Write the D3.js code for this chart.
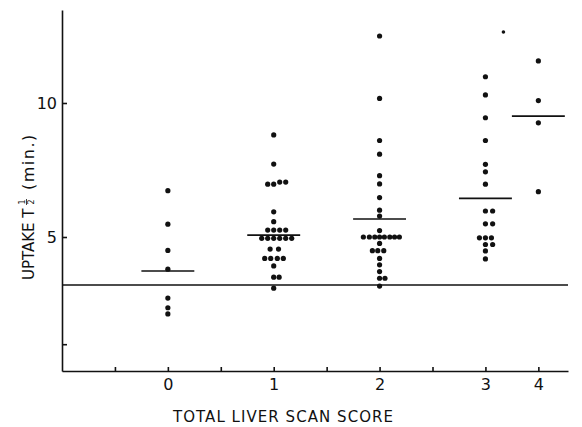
<!DOCTYPE html>
<html>
<head>
<meta charset="utf-8">
<script src="https://cdn.jsdelivr.net/npm/d3@7"></script>
<style>
body { margin: 0; background: #fff; }
text { font-family: "DejaVu Sans", sans-serif; fill: #111; }
</style>
</head>
<body>
<svg id="chart" width="582" height="427"></svg>
<script>
// liver scan score groups (score 4 sits at the 3.5 tick in the original)
var categories = ["0", "1", "2", "3", "4"];
var categoryPos = [0, 1, 2, 3, 3.5];

// [uptake T1/2 in min, column slot within the group]
var score0 = [[6.73,0],[5.48,0],[4.50,0],[3.80,0],[2.72,0],[2.36,0],[2.13,0]];
var score1 = [[8.81,0],[7.72,0],[6.97,-1],[6.97,0],[7.05,1],[7.05,2],[5.94,0],[5.57,0],
              [5.26,-1],[5.26,0],[5.26,1],[5.26,2],
              [4.95,-2],[4.95,-1],[4.95,0],[4.95,1],[4.95,2],[4.95,3],
              [4.55,-0.6],[4.55,0.8],[4.20,-1.5],[4.20,-0.5],[4.20,0.6],[4.20,1.6],
              [3.92,0],[3.50,0],[3.50,0.9],[3.09,0]];
var score2 = [[12.5,0],[10.17,0],[8.60,0],[8.09,0],[7.29,0],[6.98,0],[6.47,0],[6.00,0],[5.78,0],[5.24,0],
              [5.00,-2.7],[5.00,-1.7],[5.00,-0.8],[5.00,0],[5.00,0.8],[5.00,1.7],[5.00,2.5],[5.00,3.3],
              [4.76,0],[4.49,-1.2],[4.49,-0.3],[4.49,0.7],[4.20,0],[3.96,0],[3.71,0],
              [3.46,0],[3.46,0.9],[3.17,0]];
var score3 = [[12.65,3],[10.98,0],[10.30,0],[9.45,0],[8.60,0],[7.71,0],[7.43,0],[6.97,0],
              [5.97,0],[5.97,1.2],[5.49,0],[5.49,1.2],[4.97,-1],[4.97,0],[4.97,1],
              [4.72,0],[4.72,1.2],[4.48,0],[4.18,0]];
var score4 = [[11.57,0],[10.09,0],[9.26,0],[6.69,0]];
var groups = [score0, score1, score2, score3, score4];

var means = [3.73, 5.07, 5.67, 6.44, 9.51];
var normalUpper = 3.21;

var xTicks = [-0.5, 0, 0.5, 1, 1.5, 2, 2.5, 3, 3.5];
var yTicks = [1, 5, 10];
var yTickLabels = ["", "5", "10"];

var svg = d3.select("#chart");
var slotW = 6;

var xScale = d3.scaleLinear().domain([-1, 3.78]).range([62, 568]);
var yScale = d3.scaleLinear().domain([0, 13.47]).range([371, 10]);

var xAxis = d3.axisBottom(xScale)
    .tickValues(xTicks)
    .tickSizeInner(-4)
    .tickSizeOuter(0)
    .tickPadding(8)
    .tickFormat(function(d) {
        var i = categoryPos.indexOf(d);
        return i < 0 ? "" : categories[i];
    });

var yAxis = d3.axisLeft(yScale)
    .tickValues(yTicks)
    .tickSizeInner(-5)
    .tickSizeOuter(0)
    .tickPadding(5)
    .tickFormat(function(d, i) { return yTickLabels[i]; });

//Create X axis
svg.append("g")
    .attr("class", "x axis")
    .attr("transform", "translate(0," + yScale(0) + ")")
    .call(xAxis);

//Create Y axis
svg.append("g")
    .attr("class", "y axis")
    .attr("transform", "translate(" + xScale(-1) + ",0)")
    .call(yAxis);

svg.selectAll(".axis path, .axis line")
    .attr("stroke", "#111")
    .attr("stroke-width", 1.6);
svg.selectAll(".axis text")
    .attr("font-size", "16px")
    .attr("fill", "#111");

// upper limit of normal
svg.append("line")
    .attr("x1", xScale(-1))
    .attr("x2", xScale(3.78))
    .attr("y1", yScale(normalUpper))
    .attr("y2", yScale(normalUpper))
    .attr("stroke", "#111")
    .attr("stroke-width", 1.5);

// group means
svg.selectAll("line.mean")
    .data(means)
    .enter()
    .append("line")
    .attr("class", "mean")
    .attr("x1", function(d, i) { return xScale(categoryPos[i] - 0.25); })
    .attr("x2", function(d, i) { return xScale(categoryPos[i] + 0.25); })
    .attr("y1", function(d) { return yScale(d); })
    .attr("y2", function(d) { return yScale(d); })
    .attr("stroke", "#111")
    .attr("stroke-width", 1.6);

//Create circles
groups.forEach(function(g, i) {
    svg.append("g")
        .selectAll("circle")
        .data(g)
        .enter()
        .append("circle")
        .attr("cx", function(d) { return xScale(categoryPos[i]) + d[1] * slotW; })
        .attr("cy", function(d) { return yScale(d[0]); })
        .attr("r", function(d) { return d[0] > 12.6 && i == 3 ? 1.8 : 2.6; })
        .attr("fill", "#111");
});

// x label
svg.append("text")
    .attr("class", "x label")
    .attr("x", 173)
    .attr("y", 422)
    .attr("font-size", "15px")
    .attr("textLength", 220)
    .attr("lengthAdjust", "spacing")
    .text("TOTAL LIVER SCAN SCORE");

// y label with stacked 1/2
var yl = svg.append("g")
    .attr("class", "y label")
    .attr("transform", "translate(34,196) rotate(-90)");
yl.append("text")
    .attr("x", -84)
    .attr("y", 0)
    .attr("font-size", "15px")
    .text("UPTAKE T");
yl.append("text")
    .attr("x", -6)
    .attr("y", -9)
    .attr("text-anchor", "middle")
    .attr("font-size", "8px")
    .text("1");
yl.append("line")
    .attr("x1", -9).attr("x2", -3)
    .attr("y1", -7.5).attr("y2", -7.5)
    .attr("stroke", "#111")
    .attr("stroke-width", 0.8);
yl.append("text")
    .attr("x", -6)
    .attr("y", 0)
    .attr("text-anchor", "middle")
    .attr("font-size", "8px")
    .text("2");
yl.append("text")
    .attr("x", 6)
    .attr("y", 0)
    .attr("font-size", "16px")
    .attr("letter-spacing", "1.5px")
    .text("(min.)");
</script>
</body>
</html>
